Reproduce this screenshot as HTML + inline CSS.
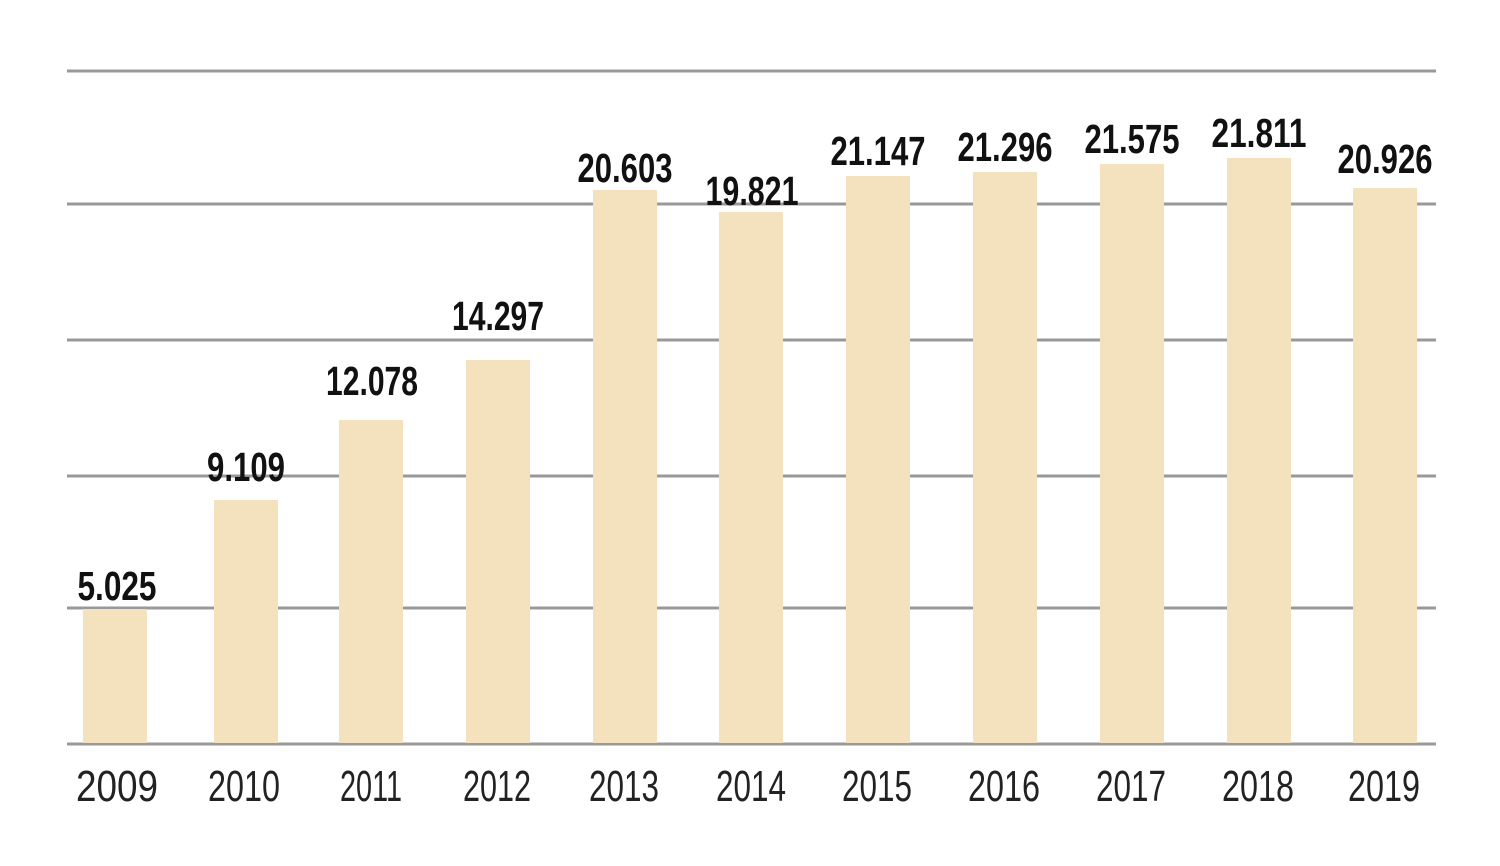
<!DOCTYPE html>
<html><head><style>body{margin:0;background:#fff}svg{display:block}</style></head><body>
<svg width="1500" height="866" xmlns="http://www.w3.org/2000/svg">
<g stroke="#999" stroke-width="3">
<line x1="67" x2="1436" y1="71" y2="71"/><line x1="67" x2="1436" y1="204" y2="204"/>
<line x1="67" x2="1436" y1="340" y2="340"/><line x1="67" x2="1436" y1="476" y2="476"/>
<line x1="67" x2="1436" y1="608" y2="608"/><line x1="67" x2="1436" y1="744" y2="744"/>
</g>
<g fill="#f4e2bf">
<rect x="83" y="609" width="64" height="134"/>
<rect x="214" y="500" width="64" height="243"/>
<rect x="339" y="420" width="64" height="323"/>
<rect x="466" y="360" width="64" height="383"/>
<rect x="593" y="190" width="64" height="553"/>
<rect x="719" y="212" width="64" height="531"/>
<rect x="846" y="176" width="64" height="567"/>
<rect x="973" y="172" width="64" height="571"/>
<rect x="1100" y="164" width="64" height="579"/>
<rect x="1227" y="158" width="64" height="585"/>
<rect x="1353" y="188" width="64" height="555"/>
</g>
<g font-family="Liberation Sans Narrow, Liberation Sans, sans-serif" font-weight="bold" font-size="41" fill="#111" text-anchor="middle" lengthAdjust="spacingAndGlyphs">
<text x="117" y="600" textLength="79" lengthAdjust="spacingAndGlyphs">5.025</text>
<text x="246" y="481" textLength="78" lengthAdjust="spacingAndGlyphs">9.109</text>
<text x="372" y="395" textLength="92" lengthAdjust="spacingAndGlyphs">12.078</text>
<text x="498" y="330" textLength="92" lengthAdjust="spacingAndGlyphs">14.297</text>
<text x="625" y="182" textLength="95" lengthAdjust="spacingAndGlyphs">20.603</text>
<text x="752" y="205" textLength="93" lengthAdjust="spacingAndGlyphs">19.821</text>
<text x="878" y="165" textLength="95" lengthAdjust="spacingAndGlyphs">21.147</text>
<text x="1005" y="161" textLength="95" lengthAdjust="spacingAndGlyphs">21.296</text>
<text x="1132" y="153" textLength="95" lengthAdjust="spacingAndGlyphs">21.575</text>
<text x="1259" y="147" textLength="95" lengthAdjust="spacingAndGlyphs">21.811</text>
<text x="1385" y="173" textLength="95" lengthAdjust="spacingAndGlyphs">20.926</text>
</g>
<g font-family="Liberation Sans Narrow, Liberation Sans, sans-serif" font-size="44" fill="#222" text-anchor="middle">
<text x="117" y="801" textLength="82" lengthAdjust="spacingAndGlyphs">2009</text>
<text x="244" y="801" textLength="72" lengthAdjust="spacingAndGlyphs">2010</text>
<text x="371" y="801" textLength="62" lengthAdjust="spacingAndGlyphs">2011</text>
<text x="497" y="801" textLength="68" lengthAdjust="spacingAndGlyphs">2012</text>
<text x="624" y="801" textLength="70" lengthAdjust="spacingAndGlyphs">2013</text>
<text x="751" y="801" textLength="70" lengthAdjust="spacingAndGlyphs">2014</text>
<text x="877" y="801" textLength="70" lengthAdjust="spacingAndGlyphs">2015</text>
<text x="1004" y="801" textLength="72" lengthAdjust="spacingAndGlyphs">2016</text>
<text x="1131" y="801" textLength="70" lengthAdjust="spacingAndGlyphs">2017</text>
<text x="1258" y="801" textLength="72" lengthAdjust="spacingAndGlyphs">2018</text>
<text x="1384" y="801" textLength="72" lengthAdjust="spacingAndGlyphs">2019</text>
</g>
</svg>
</body></html>
